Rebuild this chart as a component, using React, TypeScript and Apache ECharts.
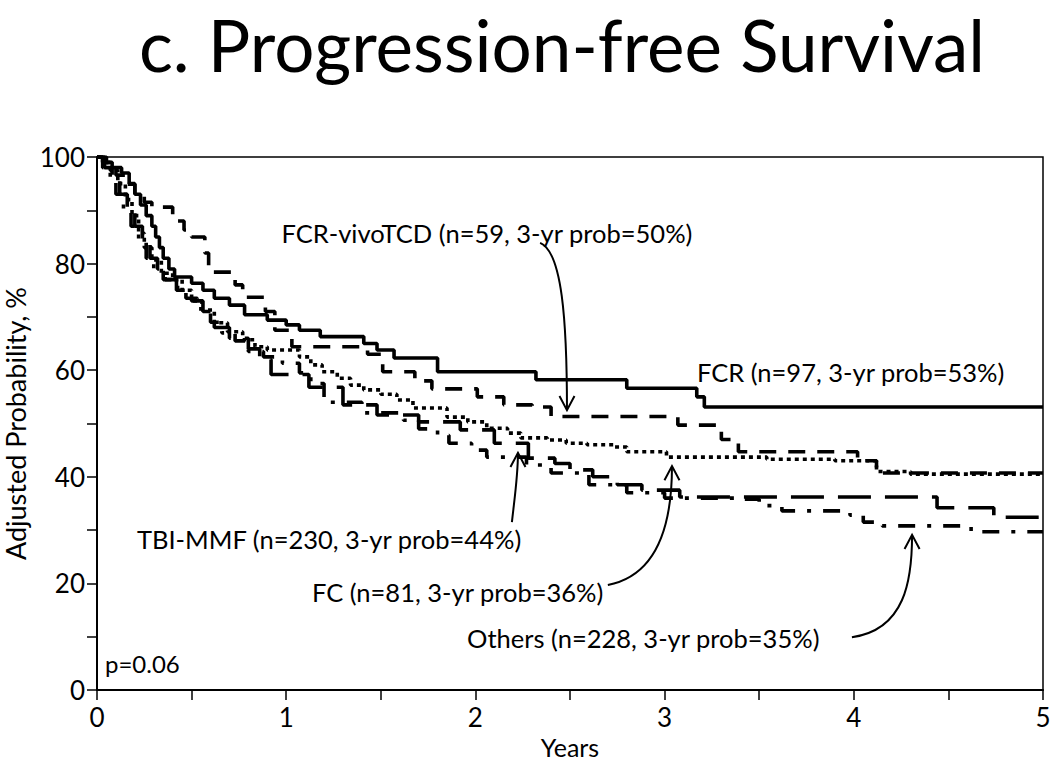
import React, { useEffect, useRef } from "react";
import * as echarts from "echarts";

type P = [number, number];

const yearTicks = [0, 1, 2, 3, 4, 5];
const probTicks = [0, 20, 40, 60, 80, 100];

const fcr: P[] = [
  [0, 100], [0.03, 99], [0.08, 98], [0.13, 97], [0.17, 95], [0.2, 93], [0.23, 91], [0.26, 89],
  [0.29, 87], [0.31, 85], [0.33, 83], [0.35, 81], [0.38, 79], [0.41, 77.5], [0.5, 76.3],
  [0.56, 75], [0.62, 73.5], [0.7, 72.2], [0.78, 70.4], [0.9, 69.4], [1.0, 68.5], [1.07, 67.5],
  [1.18, 66.3], [1.41, 65], [1.48, 63.8], [1.57, 62.3], [1.8, 59.7], [2.32, 58.2], [2.8, 56.6],
  [3.17, 55], [3.21, 53.1], [5, 53.1],
];

const fcrVivo: P[] = [
  [0, 100], [0.05, 98.3], [0.1, 96.6], [0.15, 94.9], [0.2, 93.2], [0.25, 91.5], [0.29, 90.6],
  [0.4, 88], [0.46, 86.3], [0.5, 85], [0.57, 82], [0.59, 78.4], [0.73, 76], [0.77, 73.7],
  [0.89, 71], [0.94, 67.5], [1.03, 64.4], [1.43, 63], [1.51, 59.7], [1.68, 58], [1.77, 56.5],
  [2.01, 55], [2.15, 53.5], [2.3, 53.1], [2.4, 51.3], [3.07, 49.7], [3.3, 47], [3.39, 44.7],
  [4.02, 43], [4.12, 40.7], [5, 40.7],
];

const tbiMmf: P[] = [
  [0, 100], [0.03, 99], [0.07, 97.5], [0.11, 95], [0.15, 92], [0.185, 89], [0.22, 85.7],
  [0.25, 83], [0.29, 80.7], [0.34, 78.2], [0.4, 77], [0.45, 75], [0.5, 73], [0.555, 71.3],
  [0.62, 68.9], [0.69, 67.2], [0.77, 65.7], [0.835, 64.4], [0.9, 63.8], [1.07, 62.5],
  [1.13, 61], [1.19, 59.7], [1.27, 58.5], [1.34, 57.2], [1.41, 56.3], [1.5, 55.5],
  [1.585, 54.4], [1.67, 52.9], [1.85, 51.2], [1.96, 50.3], [2.06, 49.1], [2.17, 48.2],
  [2.24, 47.3], [2.38, 46.9], [2.48, 46.3], [2.59, 46], [2.73, 45.6], [2.8, 44.7],
  [3.01, 43.7], [3.54, 43.3], [3.9, 43], [4.12, 41], [4.3, 40.5], [5, 40.5],
];

const fc: P[] = [
  [0, 100], [0.04, 98], [0.08, 96], [0.12, 93], [0.16, 90], [0.2, 87], [0.24, 84], [0.28, 81],
  [0.32, 79], [0.36, 77], [0.42, 75], [0.5, 73], [0.56, 71], [0.62, 68], [0.7, 66], [0.8, 64],
  [0.86, 62], [0.92, 59.2], [1.12, 56.8], [1.3, 53.5], [1.48, 51.6], [1.7, 50.3], [1.92, 48.8],
  [2.1, 46.3], [2.28, 43.5], [2.42, 42.5], [2.5, 41.3], [2.62, 40], [2.75, 38.5], [2.88, 37.5],
  [3.08, 36.2], [4.44, 34.2], [4.74, 32.4], [5, 32.4],
];

const others: P[] = [
  [0, 100], [0.03, 98], [0.07, 96], [0.1, 93], [0.14, 90], [0.18, 87], [0.22, 84], [0.26, 81],
  [0.3, 79], [0.35, 77], [0.4, 75.5], [0.47, 73.5], [0.53, 71.5], [0.6, 69], [0.66, 67],
  [0.73, 65.5], [0.8, 63.5], [0.88, 62.5], [0.98, 61.3], [1.07, 59.5], [1.13, 57.5], [1.2, 54],
  [1.4, 52], [1.62, 50.6], [1.7, 49], [1.8, 47.8], [1.86, 46.3], [1.98, 45], [2.06, 43.7],
  [2.27, 42.2], [2.4, 40.7], [2.6, 38.5], [2.8, 37], [3.0, 36], [3.42, 35.8], [3.5, 34.6],
  [3.62, 33.6], [3.98, 32.8], [4.05, 31.5], [4.15, 30.8], [4.62, 29.7], [5, 29.7],
];

const labels = {
  vivo: "FCR-vivoTCD (n=59, 3-yr prob=50%)",
  fcr: "FCR (n=97, 3-yr prob=53%)",
  tbi: "TBI-MMF (n=230, 3-yr prob=44%)",
  fc: "FC (n=81, 3-yr prob=36%)",
  others: "Others (n=228, 3-yr prob=35%)",
  p: "p=0.06",
};

const FONT = "Lato, 'Open Sans', sans-serif";

export default function App() {
  const ref = useRef<HTMLDivElement>(null);
  useEffect(() => {
    if (!ref.current) return;
    const chart = echarts.init(ref.current, undefined, { renderer: "svg" });
    const mk = (name: string, data: P[], type: any) => ({
      name,
      type: "line",
      step: "end",
      data,
      showSymbol: false,
      symbol: "none",
      lineStyle: { color: "#000", width: 3.6, type, cap: "butt" },
      z: 3,
    });
    chart.setOption({
      animation: false,
      backgroundColor: "#fff",
      grid: {
        left: 97, right: 7, top: 157, bottom: 71, show: true, containLabel: false,
        outerBoundsMode: "none",
        borderColor: "#000", borderWidth: 1.5, backgroundColor: "transparent",
      },
      xAxis: {
        type: "value", min: 0, max: 5, interval: 0.5,
        name: "Years", nameLocation: "middle", nameGap: 40,
        nameTextStyle: { fontFamily: FONT, fontSize: 25, color: "#000" },
        axisLine: { lineStyle: { color: "#000", width: 2 } },
        axisTick: { inside: false, length: 10, lineStyle: { color: "#000", width: 1.5 } },
        axisLabel: {
          margin: 14, fontFamily: FONT, fontSize: 26, color: "#000",
          formatter: (v: number) => (yearTicks.includes(v) ? String(v) : ""),
        },
        splitLine: { show: false },
      },
      yAxis: {
        type: "value", min: 0, max: 100, interval: 10,
        name: "Adjusted Probability, %", nameLocation: "middle", nameGap: 66,
        nameTextStyle: { fontFamily: FONT, fontSize: 27, color: "#000" },
        axisLine: { lineStyle: { color: "#000", width: 2 } },
        axisTick: { inside: false, length: 10, lineStyle: { color: "#000", width: 1.5 } },
        axisLabel: {
          margin: 12, fontFamily: FONT, fontSize: 26, color: "#000",
          formatter: (v: number) => (probTicks.includes(v) ? String(v) : ""),
        },
        splitLine: { show: false },
      },
      series: [
        mk("FCR", fcr, "solid"),
        mk("FCR-vivoTCD", fcrVivo, [17, 12]),
        mk("TBI-MMF", tbiMmf, [4, 4]),
        mk("FC", fc, [33, 14]),
        mk("Others", others, [17, 12, 4, 12]),
      ],
    });

    const px = (x: number, y: number) => chart.convertToPixel({ gridIndex: 0 }, [x, y]) as number[];
    const txt = (s: string, x: number, y: number, align: string, size = 25.5) => ({
      type: "text",
      x: px(x, y)[0], y: px(x, y)[1],
      style: { text: s, fontFamily: FONT, fontSize: size, fill: "#000", align, verticalAlign: "middle" },
      z: 10,
    });
    const arrow = (a: P, c1: P, c2: P, b: P) => {
      const A = px(...a), C1 = px(...c1), C2 = px(...c2), B = px(...b);
      const dx = B[0] - C2[0], dy = B[1] - C2[1];
      const L = Math.hypot(dx, dy) || 1;
      const ux = dx / L, uy = dy / L;
      const ang = (28 * Math.PI) / 180, h = 16;
      const rot = (s: number) => [
        B[0] - h * (ux * Math.cos(s * ang) - uy * Math.sin(s * ang)),
        B[1] - h * (ux * Math.sin(s * ang) + uy * Math.cos(s * ang)),
      ];
      return [
        {
          type: "bezierCurve",
          shape: { x1: A[0], y1: A[1], cpx1: C1[0], cpy1: C1[1], cpx2: C2[0], cpy2: C2[1], x2: B[0], y2: B[1] },
          style: { stroke: "#000", lineWidth: 2, fill: null },
          z: 10,
        },
        {
          type: "polyline",
          shape: { points: [rot(1), B, rot(-1)] },
          style: { stroke: "#000", lineWidth: 2, fill: null },
          z: 10,
        },
      ];
    };

    chart.setOption({
      graphic: [
        {
          type: "text", x: 562, y: 44,
          style: { text: "c. Progression-free Survival", fontFamily: FONT, fontSize: 71, fill: "#000", align: "center", verticalAlign: "middle" },
        },
        txt(labels.vivo, 2.061, 85.7, "center"),
        txt(labels.fcr, 3.171, 59.7, "left"),
        txt(labels.tbi, 0.211, 28.3, "left"),
        txt(labels.fc, 1.136, 18.4, "left"),
        txt(labels.others, 1.956, 9.8, "left"),
        txt(labels.p, 0.042, 4.9, "left", 24),
        ...arrow([2.342, 83.9], [2.458, 82.2], [2.484, 69.4], [2.484, 52.5]),
        ...arrow([2.193, 31.5], [2.209, 36.6], [2.225, 40.3], [2.225, 44.5]),
        ...arrow([2.7, 19.7], [2.976, 21.6], [3.039, 31.9], [3.039, 42.0]),
        ...arrow([3.99, 9.9], [4.271, 11.3], [4.308, 20.6], [4.308, 29.1]),
      ],
    });
    return () => chart.dispose();
  }, []);
  return (
    <div
      ref={ref}
      style={{ position: "fixed", left: 0, top: 0, width: 1050, height: 761, background: "#fff" }}
    />
  );
}
